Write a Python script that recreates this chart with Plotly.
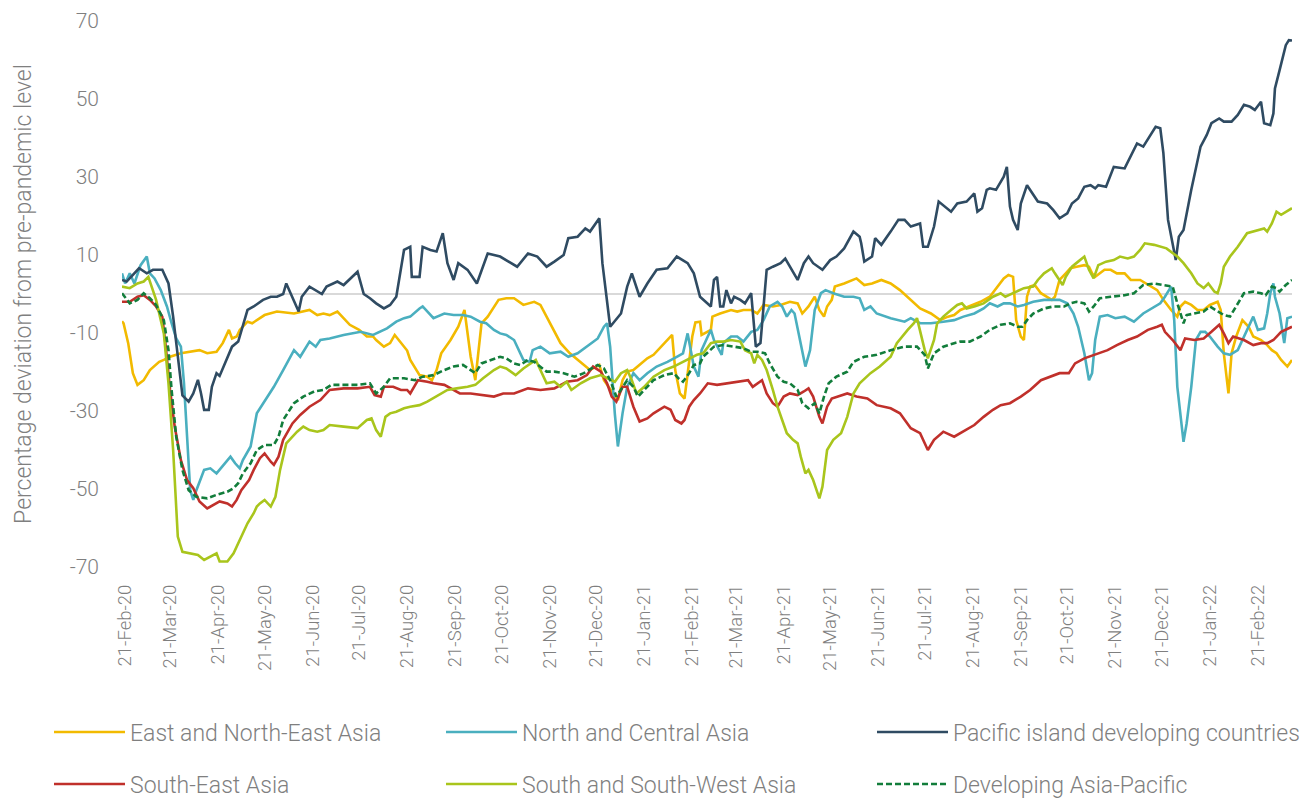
import pandas as pd
import plotly.graph_objects as go

START = pd.Timestamp("2020-02-21")  # day 0 of the day offsets below

# ---------------- data (day offset from 21-Feb-2020, % deviation) ----------------
east_days = [-2, -1, 2, 5, 8, 12, 16, 22, 25, 29, 36, 42, 48, 53, 59, 63, 67, 69, 72, 74, 79, 82, 85, 90, 98,
             109, 119, 124, 128, 132, 137, 141, 145, 151, 156, 160, 162, 167, 171, 174, 178, 182, 184, 190, 195,
             198, 201, 204, 210, 215, 219, 221, 223, 226, 228, 230, 234, 238, 241, 246, 251, 257, 264, 268, 272,
             277, 281, 287, 294, 300, 306, 309, 315, 318, 321, 324, 328, 332, 337, 341, 348, 353, 355, 358, 361,
             363, 366, 368, 371, 372, 378, 379, 384, 391, 395, 399, 404, 408, 412, 418, 423, 429, 434, 437, 441,
             445, 448, 451, 453, 456, 458, 464, 472, 477, 482, 488, 494, 500, 507, 513, 520, 526, 531, 535, 539,
             545, 552, 558, 563, 567, 570, 573, 575, 578, 580, 582, 584, 587, 591, 595, 598, 600, 603, 607, 610,
             614, 619, 622, 624, 626, 632, 636, 640, 645, 649, 655, 662, 666, 670, 675, 679, 681, 684, 688, 692,
             696, 700, 705, 707, 709, 712, 714, 717, 721, 725, 728, 733, 737, 740, 743, 746, 750, 753]
east_vals = [-7.0, -7.5, -12.6, -20.3, -23.3, -22.1, -19.5, -17.4, -16.9, -16.1, -15.2, -14.8, -14.4, -15.2, -14.8,
             -12.6, -9.2, -11.4, -10.9, -9.2, -7.1, -7.5, -6.7, -5.4, -4.5, -5.0, -4.1, -5.4, -5.0, -5.4, -4.5,
             -6.2, -7.9, -9.2, -10.9, -10.9, -11.8, -13.5, -12.6, -10.5, -12.5, -14.5, -16.9, -20.8, -21.2,
             -22.1, -19.5, -15.2, -11.8, -8.4, -4.1, -10.1, -16.1, -22.1, -15.2, -7.5, -5.8, -3.2, -1.5, -1.1,
             -1.1, -2.8, -2.0, -2.8, -5.8, -9.2, -12.6, -15.2, -17.4, -19.5, -18.2, -22.1, -25.5, -27.2, -22.1,
             -19.9, -19.5, -18.2, -16.5, -15.6, -12.6, -10.5, -19.5, -25.5, -26.8, -20.3, -10.9, -7.3, -7.1,
             -10.5, -9.2, -5.8, -5.0, -4.1, -4.5, -4.1, -4.1, -5.0, -2.8, -3.2, -2.8, -2.0, -2.4, -5.0, -3.2,
             -0.7, -4.1, -5.8, -3.2, -1.5, 1.9, 2.7, 4.0, 2.3, 2.7, 3.6, 2.7, 1.0, -1.5, -3.7, -5.0, -6.7, -5.8,
             -5.4, -4.1, -3.2, -2.0, -0.7, 1.9, 4.0, 4.9, 4.4, -6.7, -10.9, -11.8, -0.7, 1.9, 2.3, 0.2, -0.7,
             -1.5, -0.7, 3.6, 5.3, 6.6, 7.0, 7.4, 7.0, 5.3, 4.4, 6.2, 6.2, 5.3, 5.3, 3.6, 3.6, 1.9, 1.0, -1.5,
             -4.1, -5.8, -3.2, -2.0, -2.8, -4.1, -4.1, -2.8, -2.0, -4.1, -15.2, -25.5, -15.2, -10.9, -6.7, -8.4,
             -10.9, -11.8, -13.1, -14.4, -15.2, -16.9, -18.6, -16.9]

north_days = [-2, 0, 3, 6, 10, 14, 16, 19, 23, 27, 30, 33, 36, 38, 40, 42, 44, 46, 51, 55, 59, 65, 68, 71, 74,
              76, 81, 85, 90, 96, 102, 109, 113, 119, 123, 126, 132, 141, 152, 160, 169, 175, 180, 184, 190,
              192, 199, 206, 212, 218, 223, 229, 233, 238, 242, 246, 251, 254, 257, 261, 263, 268, 274, 281,
              286, 292, 298, 305, 309, 311, 313, 316, 318, 321, 324, 328, 332, 337, 343, 350, 356, 360, 363,
              365, 367, 370, 372, 376, 378, 380, 382, 385, 386, 391, 395, 399, 404, 408, 412, 416, 421, 424,
              427, 430, 432, 436, 439, 442, 445, 449, 452, 457, 464, 470, 474, 477, 481, 485, 494, 503, 507,
              513, 520, 528, 535, 541, 548, 554, 558, 563, 567, 571, 576, 580, 586, 593, 603, 608, 612, 615,
              619, 622, 624, 626, 629, 634, 639, 645, 651, 657, 664, 668, 671, 675, 677, 679, 683, 685, 688,
              691, 694, 697, 700, 705, 709, 713, 718, 722, 728, 731, 735, 737, 739, 741, 742, 745, 748, 750, 753]
north_vals = [5.3, 2.7, 5.3, 2.7, 7.4, 9.6, 5.3, 4.0, 1.0, -3.2, -7.5, -11.4, -13.5, -22.9, -36.6, -50.3, -52.8,
              -50.3, -45.1, -44.7, -46.0, -43.0, -41.7, -43.4, -44.7, -42.6, -39.1, -30.6, -27.6, -23.8, -19.5,
              -14.4, -16.1, -12.2, -13.5, -11.8, -11.4, -10.5, -9.7, -10.5, -8.8, -7.1, -6.2, -5.8, -3.7, -3.2,
              -6.2, -5.0, -5.4, -5.4, -5.8, -7.1, -7.5, -9.2, -10.1, -10.5, -11.8, -14.4, -16.9, -17.4, -14.4,
              -13.5, -15.2, -14.8, -16.1, -15.2, -13.5, -11.4, -8.4, -7.5, -13.5, -30.6, -39.1, -30.6, -23.8,
              -20.3, -22.1, -20.3, -18.6, -17.4, -16.1, -15.2, -10.1, -14.4, -18.6, -21.2, -14.4, -10.9, -9.2,
              -11.8, -13.5, -15.6, -12.6, -10.9, -10.9, -12.2, -9.7, -9.2, -6.7, -3.2, -2.0, -3.2, -5.8, -4.1,
              -5.0, -12.6, -18.6, -14.4, -4.1, 0.2, 1.0, 0.2, -0.7, -0.7, -1.1, -4.1, -3.2, -5.0, -6.2, -7.1,
              -6.2, -7.5, -7.5, -7.1, -6.7, -5.8, -5.0, -3.7, -2.4, -3.2, -2.4, -2.4, -3.2, -2.8, -2.0, -1.5,
              -1.5, -2.4, -5.0, -8.4, -15.2, -22.1, -20.3, -11.8, -5.8, -5.4, -6.2, -5.8, -7.1, -5.0, -3.2,
              -2.4, -0.7, 1.9, -6.7, -23.8, -37.9, -33.2, -23.8, -11.8, -9.7, -9.7, -10.9, -13.5, -15.2, -15.6,
              -14.4, -10.9, -5.8, -9.2, -8.8, -5.0, 0.2, 2.7, -0.7, -5.0, -12.6, -6.2, -5.8]

pacific_days = [-2, 1, 9, 14, 18, 24, 28, 31, 37, 41, 44, 47, 49, 51, 54, 56, 59, 61, 69, 73, 79, 83, 89, 94, 98,
                102, 104, 108, 112, 114, 119, 127, 130, 137, 141, 150, 154, 158, 162, 167, 171, 175, 180, 184,
                185, 190, 192, 197, 201, 205, 208, 212, 215, 221, 227, 234, 242, 253, 260, 266, 272, 277, 283,
                286, 292, 297, 300, 306, 308, 313, 320, 324, 327, 332, 337, 343, 350, 356, 363, 367, 371, 378,
                380, 382, 384, 386, 388, 391, 393, 397, 400, 404, 407, 410, 412, 414, 418, 423, 426, 429, 434,
                438, 441, 444, 450, 455, 459, 464, 470, 474, 475, 477, 482, 484, 488, 494, 499, 503, 507, 513,
                515, 518, 522, 525, 528, 533, 537, 543, 548, 550, 553, 556, 558, 562, 567, 569, 571, 573, 576,
                578, 582, 589, 595, 599, 603, 608, 611, 615, 619, 623, 626, 628, 633, 638, 645, 649, 653, 657,
                662, 665, 668, 670, 673, 678, 680, 683, 688, 694, 698, 701, 706, 709, 714, 718, 722, 726, 729,
                733, 735, 739, 741, 742, 745, 749, 751, 753]
pacific_vals = [3.6, 3.2, 6.6, 5.3, 6.2, 6.2, 2.7, -5.8, -26.0, -27.6, -25.5, -22.0, -25.5, -29.7, -29.7, -23.8,
                -20.3, -21.0, -13.5, -12.2, -4.1, -3.2, -1.5, -0.7, -0.7, 0.0, 2.7, -1.1, -4.5, -0.7, 1.9, 0.0,
                1.9, 3.2, 2.3, 5.7, 0.0, -1.1, -2.4, -3.7, -2.8, -0.7, 11.3, 12.1, 4.4, 4.4, 12.1, 11.3, 10.9,
                15.6, 7.9, 3.6, 7.9, 6.2, 2.7, 10.4, 9.6, 7.0, 10.4, 9.6, 7.0, 8.3, 10.0, 14.3, 14.7, 16.8, 16.0,
                19.4, 7.9, -8.4, -5.0, 1.9, 5.3, -0.7, 2.7, 6.2, 6.6, 9.6, 7.9, 5.3, -0.7, -3.2, 3.6, 4.4, -3.2,
                -3.2, 1.0, -2.4, -0.7, -1.5, -2.4, 0.2, -13.5, -12.6, -2.4, 6.2, 7.0, 7.9, 9.1, 7.0, 3.6, 7.9,
                9.6, 7.9, 6.2, 8.7, 9.6, 11.7, 16.0, 14.7, 13.0, 8.3, 9.6, 14.3, 12.6, 16.0, 19.0, 19.0, 17.3,
                18.1, 12.1, 12.1, 17.3, 23.7, 22.8, 21.1, 23.2, 23.7, 25.8, 21.1, 22.0, 26.7, 27.1, 26.7, 30.1,
                32.6, 22.4, 19.0, 16.4, 23.2, 27.9, 23.7, 23.2, 21.5, 19.4, 20.7, 23.2, 24.5, 27.5, 27.9, 27.1,
                27.9, 27.5, 32.6, 32.2, 35.2, 38.6, 37.8, 40.8, 42.9, 42.5, 36.1, 19.0, 8.7, 14.7, 16.4, 26.7,
                37.8, 40.8, 43.8, 45.0, 44.2, 44.2, 45.9, 48.5, 48.0, 47.2, 49.3, 43.8, 43.3, 46.3, 52.7, 57.4,
                63.8, 65.1, 65.0]

southeast_days = [-2, 3, 8, 12, 16, 20, 24, 26, 29, 32, 36, 40, 44, 48, 53, 57, 61, 66, 69, 72, 75, 80, 83, 87,
                  90, 94, 96, 99, 102, 108, 113, 119, 126, 132, 141, 150, 158, 161, 165, 167, 173, 178, 182, 184,
                  189, 195, 199, 206, 212, 216, 223, 231, 238, 244, 251, 260, 268, 277, 285, 292, 298, 302, 307,
                  311, 314, 317, 321, 324, 328, 332, 337, 341, 348, 352, 355, 359, 361, 364, 367, 371, 376, 382,
                  388, 395, 402, 405, 408, 411, 414, 418, 421, 425, 429, 434, 438, 441, 444, 448, 450, 453, 456,
                  462, 466, 472, 479, 485, 494, 500, 507, 513, 518, 522, 528, 535, 541, 548, 554, 560, 565, 571,
                  578, 584, 591, 597, 603, 609, 613, 619, 626, 634, 640, 647, 653, 660, 666, 669, 671, 676, 681,
                  684, 690, 696, 701, 706, 709, 712, 715, 722, 728, 733, 737, 741, 746, 753]
southeast_vals = [-2.0, -2.0, -0.7, -0.3, -1.5, -3.2, -5.8, -12.6, -24.6, -34.0, -42.6, -47.7, -49.8, -53.2, -55.0,
                  -54.1, -53.2, -53.7, -54.5, -52.8, -50.3, -47.7, -45.1, -42.1, -40.9, -43.0, -43.8, -41.7,
                  -37.4, -33.2, -31.0, -28.9, -27.2, -24.6, -24.2, -24.2, -23.8, -25.9, -26.3, -23.8, -23.8,
                  -24.6, -24.6, -25.5, -22.1, -22.5, -22.9, -23.3, -24.6, -25.5, -25.5, -25.9, -26.3, -25.5,
                  -25.5, -24.2, -24.6, -24.2, -22.5, -22.1, -20.8, -18.6, -19.9, -22.9, -26.3, -27.6, -23.8,
                  -23.8, -28.9, -32.7, -31.9, -30.6, -28.9, -29.7, -32.3, -33.2, -32.3, -28.9, -27.2, -25.5,
                  -22.9, -23.3, -22.9, -22.5, -22.1, -23.8, -22.9, -22.1, -25.5, -28.0, -28.9, -26.3, -25.5,
                  -25.9, -25.0, -24.2, -26.3, -31.5, -33.2, -28.9, -26.8, -25.9, -25.5, -26.3, -26.8, -28.5,
                  -29.3, -30.6, -34.4, -35.7, -40.0, -37.4, -35.3, -36.6, -35.3, -33.6, -31.5, -29.7, -28.5,
                  -28.0, -26.3, -24.6, -22.1, -21.2, -20.3, -20.3, -17.8, -16.5, -15.6, -14.4, -13.1, -11.8,
                  -10.9, -9.2, -8.4, -7.9, -9.7, -11.8, -14.4, -11.4, -11.8, -11.4, -9.7, -7.9, -10.1, -12.6,
                  -10.9, -11.8, -13.1, -12.6, -12.6, -11.8, -9.7, -8.4]

southwest_days = [-2, 3, 8, 12, 15, 17, 20, 25, 28, 31, 33, 34, 37, 42, 47, 51, 55, 59, 61, 66, 70, 74, 79, 83,
                  85, 87, 90, 94, 97, 100, 104, 111, 115, 119, 124, 128, 132, 141, 150, 156, 159, 162, 165, 168,
                  171, 175, 180, 184, 190, 195, 201, 208, 214, 221, 226, 231, 238, 242, 246, 252, 257, 263, 265,
                  268, 272, 277, 281, 285, 288, 294, 300, 307, 311, 316, 320, 324, 327, 330, 335, 341, 348, 354,
                  360, 365, 369, 373, 378, 382, 386, 391, 397, 400, 404, 406, 408, 411, 414, 418, 421, 424, 427,
                  431, 434, 436, 439, 441, 444, 448, 450, 453, 457, 462, 466, 470, 474, 481, 487, 494, 498, 505,
                  509, 511, 513, 516, 518, 522, 524, 528, 533, 537, 540, 543, 548, 554, 560, 565, 568, 573, 580,
                  586, 589, 593, 598, 600, 605, 607, 611, 615, 619, 622, 625, 628, 633, 638, 642, 647, 651, 655,
                  658, 664, 668, 672, 679, 683, 688, 692, 696, 699, 703, 705, 707, 709, 713, 718, 724, 731, 735,
                  737, 740, 743, 746, 753]
southwest_vals = [1.9, 1.5, 2.7, 3.2, 4.4, 1.9, -1.5, -10.1, -22.9, -40.0, -52.8, -62.2, -66.1, -66.5, -66.9,
                  -68.2, -67.4, -66.5, -68.6, -68.6, -66.5, -63.1, -58.8, -56.2, -54.5, -53.7, -52.8, -54.5,
                  -52.0, -45.1, -38.3, -35.3, -34.0, -34.9, -35.3, -34.9, -33.6, -34.0, -34.4, -32.3, -31.9,
                  -34.9, -36.6, -31.5, -30.6, -30.2, -29.3, -28.9, -28.5, -27.6, -26.3, -24.6, -24.2, -23.8,
                  -23.3, -21.6, -19.5, -18.6, -19.1, -20.8, -19.1, -17.4, -16.9, -19.5, -22.9, -22.5, -23.8,
                  -22.5, -24.6, -22.9, -21.6, -20.8, -21.6, -22.5, -20.3, -19.5, -22.1, -25.5, -23.8, -21.2,
                  -19.5, -18.6, -17.4, -16.5, -15.6, -15.2, -12.6, -12.2, -12.2, -11.8, -12.2, -14.4, -15.2,
                  -17.8, -15.6, -16.9, -19.5, -24.6, -28.9, -32.3, -35.7, -37.4, -38.3, -41.7, -46.0, -45.1,
                  -47.7, -52.4, -49.4, -40.0, -37.4, -35.7, -31.5, -25.5, -22.9, -20.3, -18.6, -16.1, -12.6,
                  -9.2, -7.5, -6.2, -9.2, -14.4, -16.5, -11.8, -7.5, -5.8, -4.1, -2.8, -2.4, -3.7, -3.2, -2.4,
                  -0.7, 0.2, -0.7, 0.2, 1.5, 1.9, 3.6, 5.3, 6.6, 5.3, 2.3, 4.4, 7.0, 8.3, 9.6, 6.2, 4.0, 7.4,
                  8.3, 8.7, 9.6, 9.1, 9.6, 11.3, 13.0, 12.6, 12.1, 11.7, 9.6, 7.9, 5.3, 2.7, 1.5, 2.7, 0.6, 0.2,
                  2.7, 7.0, 9.6, 12.1, 15.6, 16.4, 16.8, 16.0, 18.1, 21.1, 20.3, 22.0]

developing_days = [-2, 3, 8, 12, 16, 20, 25, 28, 30, 33, 37, 41, 46, 53, 59, 66, 70, 73, 76, 81, 85, 90, 96, 99,
                   102, 109, 115, 122, 128, 133, 141, 150, 158, 162, 167, 171, 180, 187, 192, 199, 206, 212, 218,
                   223, 226, 230, 236, 242, 246, 251, 255, 260, 264, 268, 272, 277, 283, 290, 296, 301, 305, 309,
                   313, 317, 320, 324, 328, 331, 335, 341, 348, 354, 357, 360, 364, 367, 371, 373, 380, 386, 393,
                   399, 404, 408, 413, 416, 421, 425, 429, 434, 437, 441, 445, 448, 451, 454, 459, 466, 470, 477,
                   485, 494, 503, 511, 516, 518, 522, 528, 535, 539, 545, 552, 558, 565, 571, 576, 579, 582, 586,
                   593, 599, 606, 610, 614, 619, 622, 625, 629, 636, 645, 651, 657, 664, 670, 676, 679, 683, 685,
                   691, 696, 700, 705, 709, 713, 718, 722, 728, 733, 736, 740, 743, 745, 749, 753]
developing_vals = [0.2, -2.4, -1.5, 0.2, -1.1, -2.8, -6.7, -14.4, -24.6, -36.6, -45.1, -50.3, -52.0, -52.4, -51.5,
                   -50.7, -49.8, -48.5, -46.0, -43.4, -40.0, -38.7, -38.7, -36.6, -32.3, -28.0, -26.3, -25.0,
                   -24.6, -23.3, -23.3, -23.3, -22.9, -25.5, -23.8, -21.6, -21.6, -22.1, -21.2, -20.8, -19.5,
                   -18.6, -18.2, -19.5, -20.3, -17.8, -16.9, -16.1, -16.5, -17.8, -18.2, -16.9, -17.4, -18.6,
                   -19.9, -19.9, -20.3, -21.2, -20.3, -19.1, -18.2, -19.1, -22.1, -26.3, -24.6, -22.1, -23.8,
                   -26.3, -24.6, -22.1, -20.8, -20.3, -21.6, -22.5, -20.3, -18.2, -17.8, -16.1, -13.5, -13.1,
                   -13.5, -13.9, -14.8, -14.8, -15.2, -17.8, -21.2, -22.5, -22.9, -24.6, -28.0, -29.3, -28.0,
                   -30.6, -26.3, -22.9, -21.2, -19.9, -17.4, -16.1, -15.6, -14.4, -13.5, -13.5, -15.6, -19.1,
                   -15.2, -13.5, -12.6, -12.2, -12.2, -10.9, -9.2, -7.9, -7.5, -8.4, -8.4, -6.7, -5.0, -3.7, -3.2,
                   -3.2, -2.4, -2.0, -2.4, -4.5, -3.2, -1.1, -0.7, -0.3, 0.2, 2.3, 2.7, 2.3, 1.9, -2.4, -7.5, -5.4,
                   -5.0, -4.5, -3.2, -4.5, -5.4, -5.8, -2.4, 0.2, 0.6, 0.2, -0.3, 1.9, 1.5, 0.6, 2.3, 3.6]

series_names = ["East and North-East Asia", "North and Central Asia", "Pacific island developing countries",
                "South-East Asia", "South and South-West Asia", "Developing Asia-Pacific"]

tick_days = [0, 29, 60, 90, 121, 151, 182, 213, 243, 274, 304, 335, 366, 394, 425, 455, 486, 516, 547, 578, 608,
             639, 669, 700, 731]
tick_labels = ["21-Feb-20", "21-Mar-20", "21-Apr-20", "21-May-20", "21-Jun-20", "21-Jul-20", "21-Aug-20",
               "21-Sep-20", "21-Oct-20", "21-Nov-20", "21-Dec-20", "21-Jan-21", "21-Feb-21", "21-Mar-21",
               "21-Apr-21", "21-May-21", "21-Jun-21", "21-Jul-21", "21-Aug-21", "21-Sep-21", "21-Oct-21",
               "21-Nov-21", "21-Dec-21", "21-Jan-22", "21-Feb-22"]
y_ticks = [-70, -50, -30, -10, 10, 30, 50, 70]
y_tick_labels = ["-70", "-50", "-30", "-10", "10", "30", "50", "70"]


def to_dates(days):
    return [START + pd.Timedelta(days=d) for d in days]


# ---------------- styling ----------------
FONT = "Roboto"
GREY = "#7F7F7F"
colors = ["#F2BA00", "#4AAFBF", "#2F4B62", "#C0302B", "#A9C51C", "#127D3B"]
dashes = ["solid"] * 5 + ["6px,3px"]
all_days = [east_days, north_days, pacific_days, southeast_days, southwest_days, developing_days]
all_vals = [east_vals, north_vals, pacific_vals, southeast_vals, southwest_vals, developing_vals]
legend_ids = ["legend", "legend2", "legend3", "legend4", "legend5", "legend6"]

fig = go.Figure()
for name, d, v, c, ds, lg in zip(series_names, all_days, all_vals, colors, dashes, legend_ids):
    fig.add_trace(go.Scatter(x=to_dates(d), y=v, mode="lines", name=name, legend=lg,
                             line=dict(color=c, width=2.6, dash=ds)))

# the page body adds an 8px margin, so the figure is sized to fit the 1315x798 window
W, H = 1307, 790
L, R, T, B = 114, 23, 13, 231
pw, ph = W - L - R, H - T - B

# legend placement: 3 columns x 2 rows (figure pixel coordinates)
col_left_px = [41, 433, 864]
row_mid_px = [724, 776]
legend_layouts = {}
for i, lg in enumerate(legend_ids):
    col, row = i % 3, i // 3
    legend_layouts[lg] = dict(
        x=(col_left_px[col] - L) / pw, xanchor="left",
        y=(H - B - row_mid_px[row]) / ph, yanchor="middle",
        orientation="v", itemwidth=71, bgcolor="rgba(0,0,0,0)",
        font=dict(family=FONT, size=23, color=GREY, weight=300),
    )

date_ticks = to_dates(tick_days)

fig.update_layout(
    width=W, height=H,
    margin=dict(l=L, r=R, t=T, b=B, autoexpand=False),
    paper_bgcolor="white", plot_bgcolor="white",
    showlegend=True,
    font=dict(family=FONT, color=GREY, weight=300),
    xaxis=dict(
        type="date", automargin=False,
        range=[START + pd.Timedelta(days=-2), START + pd.Timedelta(days=753)],
        tickmode="array", tickvals=date_ticks, ticktext=tick_labels,
        tickangle=-90, tickfont=dict(family=FONT, size=18.5, color=GREY, weight=300),
        showgrid=False, zeroline=False, showline=False, ticks="", ticklabelstandoff=13,
    ),
    yaxis=dict(
        range=[-70, 70], tickmode="array", tickvals=y_ticks, ticktext=y_tick_labels, automargin=False,
        tickfont=dict(family=FONT, size=21, color=GREY, weight=300),
        showgrid=False, zeroline=True, zerolinecolor="#D9D9D9", zerolinewidth=2,
        showline=False, ticks="", ticklabelstandoff=22,
        title=dict(text="Percentage deviation from pre-pandemic level",
                   font=dict(family=FONT, size=23, color=GREY, weight=300), standoff=31),
    ),
    **legend_layouts,
)

fig.write_html("out.html")
